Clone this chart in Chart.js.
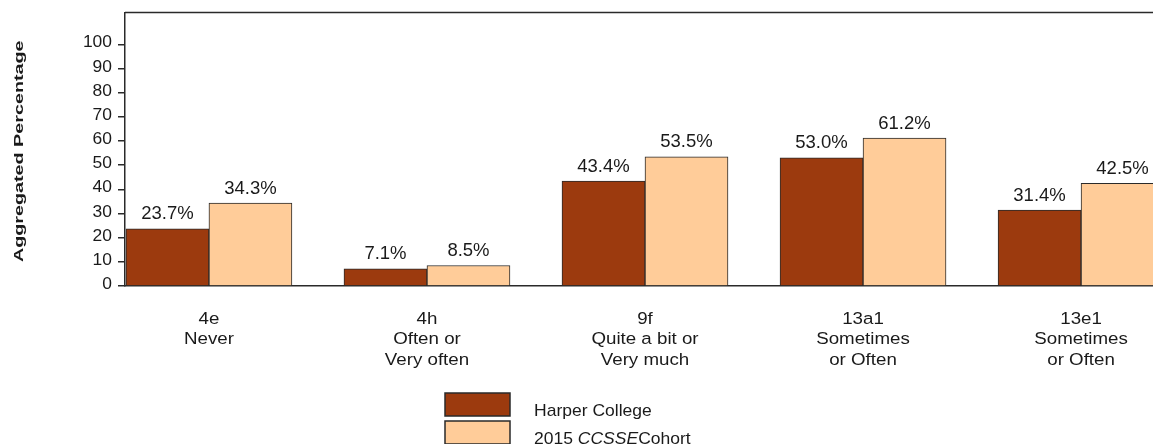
<!DOCTYPE html>
<html>
<head>
<meta charset="utf-8">
<script src="https://cdn.jsdelivr.net/npm/chart.js@4.4.1/dist/chart.umd.min.js"></script>
<style>
  html, body { margin: 0; padding: 0; background: #fff; overflow: hidden; }
  #wrap { width: 1153px; height: 444px; }
</style>
</head>
<body>
<div id="wrap"><canvas id="chart" width="1153" height="444"></canvas></div>
<script>
(() => {
  'use strict';

  const categories = [
    ['4e', 'Never'],
    ['4h', 'Often or', 'Very often'],
    ['9f', 'Quite a bit or', 'Very much'],
    ['13a1', 'Sometimes', 'or Often'],
    ['13e1', 'Sometimes', 'or Often']
  ];
  const harper = [23.7, 7.1, 43.4, 53.0, 31.4];
  const cohort = [34.3, 8.5, 53.5, 61.2, 42.5];
  const yTicks = [0, 10, 20, 30, 40, 50, 60, 70, 80, 90, 100];
  const yTitle = 'Aggregated Percentage';

  const FONT = "'Liberation Sans', Arial, Helvetica, sans-serif";
  const DARK = '#9C3A0E';
  const LIGHT = '#FFCC99';
  const LINE = '#2a2a2a';
  const TEXT = '#1a1a1a';

  const toPoints = arr => arr.map((v, i) => ({ x: i, y: v }));

  // text drawn with a horizontal stretch, the source fonts are wider than Arial
  function stretchText(ctx, str, x, y, sx, align) {
    ctx.save();
    ctx.translate(x, y);
    ctx.scale(sx, 1);
    ctx.textAlign = align;
    ctx.fillText(str, 0, 0);
    ctx.restore();
  }

  const labelsPlugin = {
    id: 'labelsPlugin',
    afterDraw(chart) {
      const ctx = chart.ctx;
      const a = chart.chartArea;
      const xs = chart.scales.x;
      const ys = chart.scales.y;
      ctx.save();
      ctx.fillStyle = TEXT;
      ctx.textBaseline = 'alphabetic';

      // top frame line
      ctx.strokeStyle = LINE;
      ctx.lineWidth = 1.5;
      ctx.beginPath();
      ctx.moveTo(a.left, a.top);
      ctx.lineTo(a.right, a.top);
      ctx.stroke();

      // values above bars
      ctx.font = '18.5px ' + FONT;
      chart.data.datasets.forEach((ds, di) => {
        chart.getDatasetMeta(di).data.forEach((bar, i) => {
          stretchText(ctx, ds.data[i].y.toFixed(1) + '%', bar.x, bar.y - 9.5, 1, 'center');
        });
      });

      // y tick labels
      ctx.font = '16px ' + FONT;
      yTicks.forEach(v => {
        stretchText(ctx, String(v), 112, ys.getPixelForValue(v) + 3, 1.09, 'right');
      });

      // category labels
      ctx.font = '16.3px ' + FONT;
      categories.forEach((lines, i) => {
        const cx = xs.getPixelForValue(i);
        lines.forEach((ln, k) => {
          stretchText(ctx, ln, cx, 324 + k * 20.3, 1.15, 'center');
        });
      });

      // y axis title
      ctx.save();
      ctx.font = 'bold 12.5px ' + FONT;
      ctx.translate(19.5, (a.top + a.bottom) / 2 + 2);
      ctx.rotate(-Math.PI / 2);
      ctx.scale(1.58, 1);
      ctx.textAlign = 'center';
      ctx.textBaseline = 'middle';
      ctx.fillText(yTitle, 0, 0);
      ctx.restore();

      // legend
      const items = [
        { color: DARK, y: 393, parts: [{ t: 'Harper College', s: '' }] },
        { color: LIGHT, y: 421, parts: [{ t: '2015 ', s: '' }, { t: 'CCSSE', s: 'italic ' }, { t: 'Cohort', s: '' }] }
      ];
      items.forEach((it, n) => {
        ctx.fillStyle = it.color;
        ctx.fillRect(445, it.y, 65, 23);
        ctx.strokeStyle = LINE;
        ctx.lineWidth = 1.5;
        ctx.strokeRect(445, it.y, 65, 23);
        let x = 534;
        ctx.fillStyle = TEXT;
        it.parts.forEach(p => {
          ctx.font = p.s + '17px ' + FONT;
          stretchText(ctx, p.t, x, 415.7 + n * 28.3, 1.03, 'left');
          x += ctx.measureText(p.t).width * 1.03;
        });
      });
      ctx.restore();
    }
  };

  new Chart(document.getElementById('chart'), {
    type: 'bar',
    data: {
      datasets: [
        { label: 'Harper College', data: toPoints(harper), backgroundColor: DARK, borderColor: LINE, borderWidth: 1 },
        { label: '2015 CCSSE Cohort', data: toPoints(cohort), backgroundColor: LIGHT, borderColor: LINE, borderWidth: 1 }
      ]
    },
    options: {
      responsive: false,
      animation: false,
      barThickness: 83,
      layout: { padding: { top: 12.5, left: 0, right: 0, bottom: 0 } },
      plugins: { legend: { display: false }, tooltip: { enabled: false } },
      scales: {
        x: {
          type: 'linear',
          offset: false,
          min: -0.385,
          max: 4.33,
          afterBuildTicks: s => { s.ticks = categories.map((c, i) => ({ value: i })); },
          afterFit: s => { s.height = 444 - 286; },
          grid: { display: false, drawTicks: false },
          border: { display: true, color: LINE, width: 1.5 },
          ticks: { display: false }
        },
        y: {
          min: 0,
          max: 113.2,
          afterBuildTicks: s => { s.ticks = yTicks.map(v => ({ value: v })); },
          afterFit: s => { s.width = 125; },
          grid: { display: true, drawOnChartArea: false, drawTicks: true, tickLength: 7, color: LINE, lineWidth: 1.5 },
          border: { display: true, color: LINE, width: 1.5 },
          ticks: { display: false }
        }
      }
    },
    plugins: [labelsPlugin]
  });
})();
</script>
</body>
</html>
